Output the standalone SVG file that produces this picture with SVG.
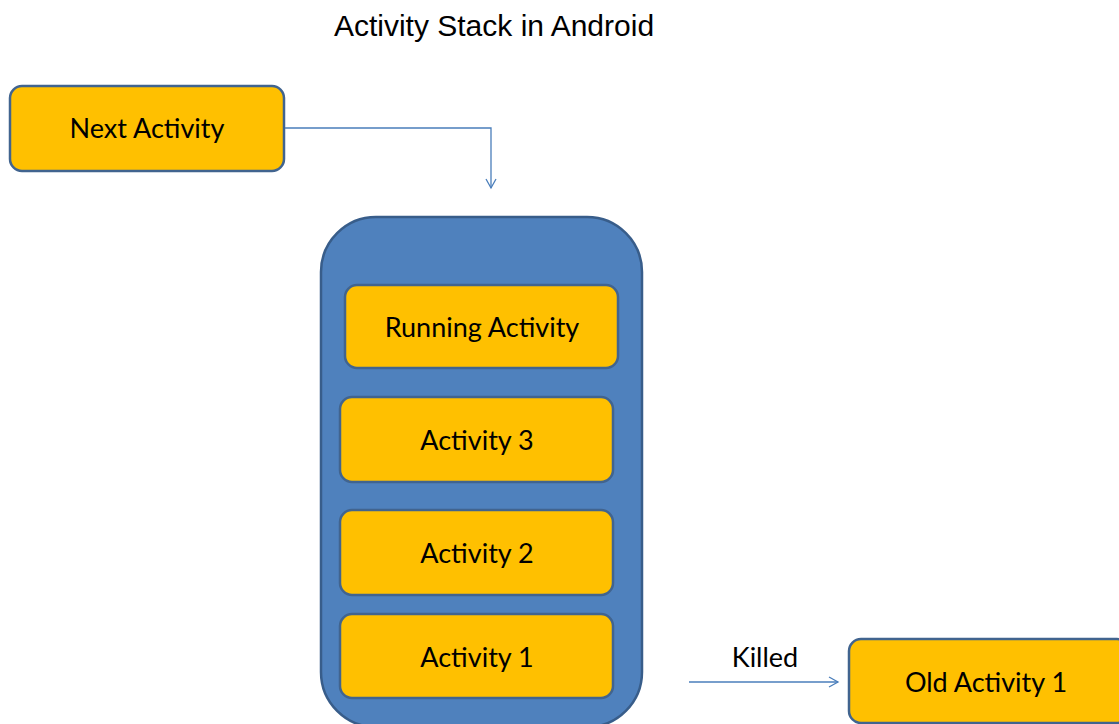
<svg xmlns="http://www.w3.org/2000/svg" width="1119" height="724" viewBox="0 0 1119 724">
<defs>
<marker id="arr" markerWidth="14" markerHeight="14" refX="10" refY="6" orient="auto" markerUnits="userSpaceOnUse">
<path d="M1,1 L10,6 L1,11" fill="none" stroke="#4A7EBB" stroke-width="1.3"/>
</marker>
<style>
.act{fill:#FFC000;stroke:#41648F;stroke-width:2.5}
.stack{fill:#4F81BD;stroke:#385D8A;stroke-width:2.5}
.lbl{font-family:Lato,"Liberation Sans",sans-serif;font-size:27px;fill:#000;text-anchor:middle}
.title{font-family:"Liberation Sans",Arial,sans-serif;font-size:30px;fill:#000;text-anchor:middle}
.conn{fill:none;stroke:#4A7EBB;stroke-width:1.3}
</style>
</defs>
<rect width="1119" height="724" fill="#fff"/>
<text class="title" x="494" y="36">Activity Stack in Android</text>
<g id="stack">
<rect class="stack" x="321" y="217" width="321" height="510" rx="55" ry="55"/>
</g>
<g id="next-activity">
<rect class="act" x="10" y="86" width="274" height="85" rx="12"/>
<text class="lbl" x="147" y="138">Next Activity</text>
</g>
<g id="running-activity">
<rect class="act" x="345" y="285" width="273" height="83" rx="12"/>
<text class="lbl" x="482" y="337">Running Activity</text>
</g>
<g id="activity-3">
<rect class="act" x="340" y="397" width="273" height="85" rx="12"/>
<text class="lbl" x="477" y="450">Activity 3</text>
</g>
<g id="activity-2">
<rect class="act" x="340" y="510" width="273" height="85" rx="12"/>
<text class="lbl" x="477" y="563">Activity 2</text>
</g>
<g id="activity-1">
<rect class="act" x="340" y="614" width="273" height="84" rx="12"/>
<text class="lbl" x="477" y="667">Activity 1</text>
</g>
<g id="old-activity-1">
<rect class="act" x="849" y="639" width="280" height="84" rx="12"/>
<text class="lbl" x="986" y="692">Old Activity 1</text>
</g>
<g id="connectors">
<path class="conn" d="M285,128 H491 V188" marker-end="url(#arr)"/>
<path class="conn" d="M689,682 H838" marker-end="url(#arr)"/>
<text class="lbl" x="765" y="667">Killed</text>
</g>
</svg>
